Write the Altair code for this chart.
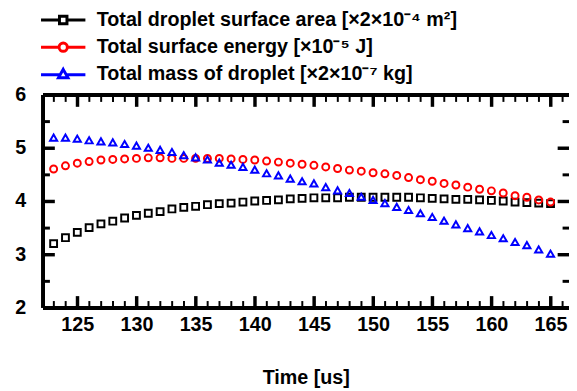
import altair as alt
import pandas as pd

# ---------------- data ----------------
time_us = list(range(123, 166))

area = [3.20, 3.31, 3.41, 3.50, 3.57, 3.62, 3.68, 3.73, 3.77, 3.80,
        3.85, 3.88, 3.90, 3.93, 3.95, 3.96, 3.98, 4.00, 4.01, 4.02,
        4.04, 4.05, 4.06, 4.06, 4.06, 4.07, 4.07, 4.07, 4.07, 4.07,
        4.07, 4.06, 4.05, 4.04, 4.03, 4.03, 4.02, 4.01, 4.00, 3.98,
        3.97, 3.96, 3.95]

energy = [4.60, 4.66, 4.71, 4.74, 4.77, 4.78, 4.79, 4.80, 4.81, 4.81,
          4.80, 4.80, 4.80, 4.80, 4.80, 4.79, 4.78, 4.77, 4.75, 4.73,
          4.71, 4.69, 4.67, 4.64, 4.61, 4.58, 4.56, 4.53, 4.51, 4.48,
          4.44, 4.40, 4.37, 4.33, 4.30, 4.26, 4.22, 4.19, 4.15, 4.10,
          4.07, 4.02, 3.98]

mass = [5.19, 5.19, 5.17, 5.14, 5.12, 5.10, 5.07, 5.04, 5.00, 4.96,
        4.92, 4.86, 4.82, 4.78, 4.72, 4.68, 4.64, 4.59, 4.52, 4.48,
        4.42, 4.37, 4.33, 4.26, 4.20, 4.15, 4.08, 4.02, 3.96, 3.89,
        3.83, 3.77, 3.70, 3.63, 3.56, 3.49, 3.43, 3.36, 3.30, 3.23,
        3.17, 3.09, 3.01]

series_names = [
    "Total droplet surface area [×2×10⁻⁴ m²]",
    "Total surface energy [×10⁻⁵ J]",
    "Total mass of droplet [×2×10⁻⁷ kg]",
]

x_major = [125, 130, 135, 140, 145, 150, 155, 160, 165]
x_minor = list(range(123, 167))
y_major = [2, 3, 4, 5, 6]
y_minor = [2.5, 3.5, 4.5, 5.5]

# ---------------- table ----------------
rows = []
for name, vals in zip(series_names, [area, energy, mass]):
    for t, v in zip(time_us, vals):
        rows.append({"time": t, "value": v, "series": name})
df = pd.DataFrame(rows)

W, H = 534, 216
FONT = "Liberation Sans"
colors = ["#000000", "#ff0000", "#0000ff"]

xscale = alt.Scale(domain=[122.06, 166.56], nice=False, zero=False)
yscale = alt.Scale(domain=[2, 6], nice=False, zero=False)

# legend symbols: short line with the marker in the middle (symbol box 20px, path spans 45px)
legend_paths = [
    "M-2.25,0H-0.38M0.38,0H2.25M-0.38,-0.38H0.38V0.38H-0.38Z",
    "M-2.25,0H-0.42M0.42,0H2.25M0.42,0A0.42,0.42,0,1,1,-0.42,0A0.42,0.42,0,1,1,0.42,0Z",
    "M-2.25,0.05H-0.31M0.31,0.05H2.25M0,-0.5L0.48,0.35L-0.48,0.35Z",
]


def tick_axis(orient, values, size, width, offset, domain=False):
    return alt.Axis(orient=orient, values=values, tickSize=size, tickWidth=width,
                    tickColor="black", labels=False, title=None, grid=False,
                    domain=domain, domainWidth=4, domainColor="black",
                    offset=offset, ticks=True)


base = alt.Chart(df)

# main data layer with labelled axes
main = base.mark_point(filled=False, strokeWidth=2, opacity=1).encode(
    x=alt.X("time:Q", scale=xscale,
            axis=alt.Axis(orient="bottom", values=x_major, ticks=False, tickSize=0,
                          grid=False, domain=True, domainWidth=4, domainColor="black",
                          labelFont=FONT, labelFontSize=20, labelFontWeight="bold",
                          labelColor="black", labelPadding=7, labelOverlap=False,
                          labelFlush=False, title="Time [us]", titleFont=FONT,
                          titleFontSize=20, titleFontWeight="bold", titleColor="black",
                          titlePadding=34)),
    y=alt.Y("value:Q", scale=yscale,
            axis=alt.Axis(orient="left", values=y_major, ticks=False, tickSize=0,
                          grid=False, domain=True, domainWidth=4, domainColor="black",
                          format="d",
                          labelFont=FONT, labelFontSize=20, labelFontWeight="bold",
                          labelColor="black", labelPadding=17, labelOverlap=False,
                          labelFlush=False, title=None)),
    color=alt.Color("series:N", scale=alt.Scale(domain=series_names, range=colors), legend=None),
    shape=alt.Shape("series:N", scale=alt.Scale(domain=series_names,
                                                range=["square", "circle", "triangle-up"]), legend=None),
    size=alt.Size("series:N", scale=alt.Scale(domain=series_names, range=[48, 52, 115]), legend=None),
)

legend_kw = dict(title=None, orient="none", legendX=9.5, legendY=-87,
                 direction="vertical", symbolSize=400,
                 symbolStrokeWidth=3, symbolFillColor="white",
                 symbolOpacity=1, labelFont=FONT, labelFontSize=20,
                 labelFontWeight="bold", labelColor="black",
                 labelLimit=800, labelOffset=22.5, rowPadding=5.5, padding=0)

# inward ticks on bottom & left edges (major)
l1 = base.mark_point(opacity=0).encode(
    x=alt.X("time:Q", scale=xscale, axis=tick_axis("top", x_major, 12, 3.5, -H)),
    y=alt.Y("value:Q", scale=yscale, axis=tick_axis("right", y_major, 12, 3.5, -W)),
)

# inward minor ticks on bottom & left edges
l2 = base.mark_point(opacity=0).encode(
    x=alt.X("time:Q", scale=xscale, axis=tick_axis("top", x_minor, 7, 2, -H)),
    y=alt.Y("value:Q", scale=yscale, axis=tick_axis("right", y_minor, 7, 3, -W)),
)

# inward major ticks on top & right edges (top frame line)
l3 = base.mark_point(opacity=0).encode(
    x=alt.X("time:Q", scale=xscale, axis=tick_axis("bottom", x_major, 12, 3.5, -H, domain=True)),
    y=alt.Y("value:Q", scale=yscale, axis=tick_axis("left", y_major, 12, 3.5, -W)),
)

# inward minor ticks on top & right edges
l4 = base.mark_point(opacity=0).encode(
    x=alt.X("time:Q", scale=xscale, axis=tick_axis("bottom", x_minor, 7, 2, -H)),
    y=alt.Y("value:Q", scale=yscale, axis=tick_axis("left", y_minor, 7, 3, -W)),
)

# legend layer (invisible points, legend only)
leg = base.mark_point(opacity=0, filled=False).encode(
    x=alt.X("time:Q", scale=xscale, axis=None),
    y=alt.Y("value:Q", scale=yscale, axis=None),
    color=alt.Color("series:N", scale=alt.Scale(domain=series_names, range=colors),
                    legend=alt.Legend(**legend_kw)),
    shape=alt.Shape("series:N", scale=alt.Scale(domain=series_names, range=legend_paths),
                    legend=alt.Legend(**legend_kw)),
)

chart = alt.layer(l1, l2, l3, l4, main, leg).resolve_scale(
    color="independent", shape="independent"
).resolve_axis(
    x="independent", y="independent"
).properties(
    width=W, height=H,
    autosize=alt.AutoSizeParams(type="none"),
    padding={"left": 35, "top": 85, "right": 0, "bottom": 82},
    background="white",
).configure_view(stroke=None)

chart.save("out.html", embed_options={"renderer": "svg", "actions": False})
